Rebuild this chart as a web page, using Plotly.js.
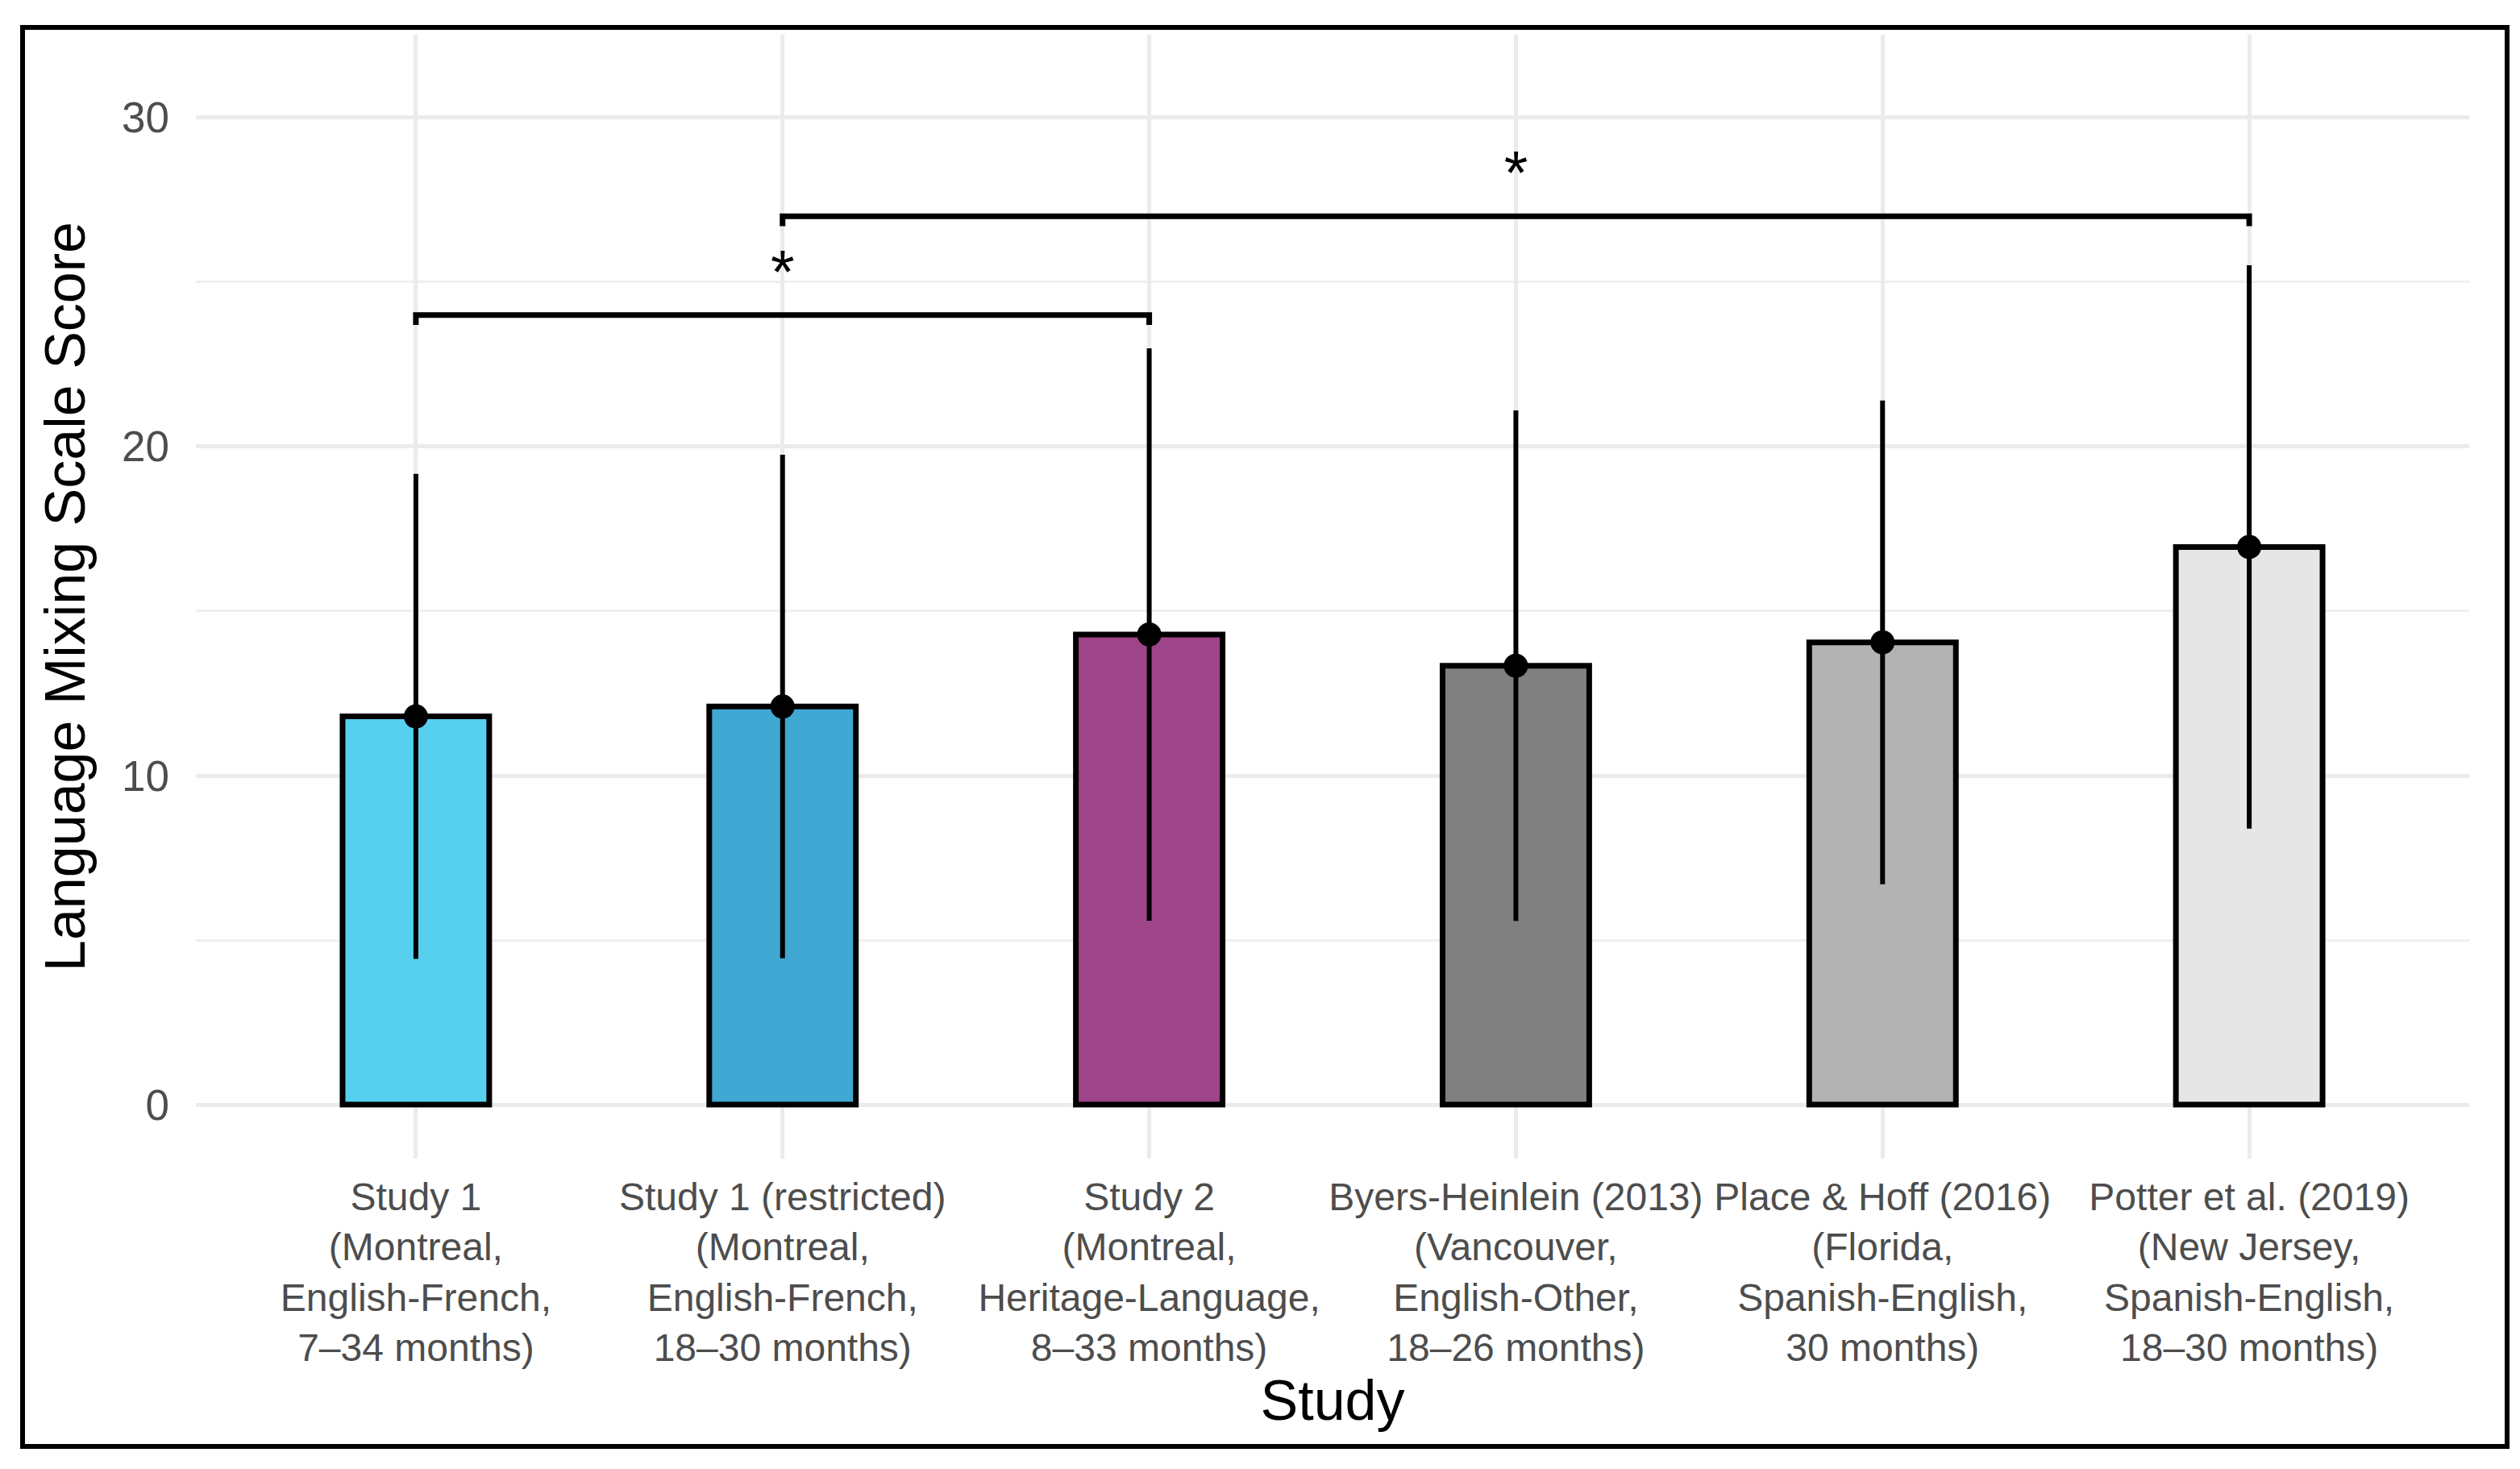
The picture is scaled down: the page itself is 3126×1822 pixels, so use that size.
<!DOCTYPE html>
<html>
<head>
<meta charset="utf-8">
<script src="https://cdn.plot.ly/plotly-3.0.1.min.js"></script>
<style>
  html, body { margin: 0; padding: 0; background: #ffffff; }
  #chart { position: absolute; left: 0; top: 0; width: 3126px; height: 1822px; }
  #frame { position: absolute; left: 25px; top: 31px; width: 3088px; height: 1766px;
           box-sizing: border-box; border: 6px solid #000000; pointer-events: none; }
</style>
</head>
<body>
<div id="chart"></div>
<div id="frame"></div>
<script>
// ---- data ----
const categories = ["Study 1", "Study 1 (restricted)", "Study 2", "Byers-Heinlein (2013)", "Place & Hoff (2016)", "Potter et al. (2019)"];
const tickLabels = [
  "Study 1<br>(Montreal,<br>English-French,<br>7–34 months)",
  "Study 1 (restricted)<br>(Montreal,<br>English-French,<br>18–30 months)",
  "Study 2<br>(Montreal,<br>Heritage-Language,<br>8–33 months)",
  "Byers-Heinlein (2013)<br>(Vancouver,<br>English-Other,<br>18–26 months)",
  "Place & Hoff (2016)<br>(Florida,<br>Spanish-English,<br>30 months)",
  "Potter et al. (2019)<br>(New Jersey,<br>Spanish-English,<br>18–30 months)"
];
const meanScores = [11.80, 12.10, 14.29, 13.34, 14.05, 16.95];
const sdScores   = [7.37, 7.65, 8.70, 7.76, 7.35, 8.56];
const yTicks = [0, 10, 20, 30];
// significance comparisons (indices into categories)
const compareFrom = [0, 1];
const compareTo   = [2, 5];
const compareY    = [24.0, 27.0];
const compareLabel = ["*", "*"];

// ---- styles ----
const barColors = ["#57D0EF", "#40A8D2", "#9E4489", "#808080", "#B3B3B3", "#E6E6E6"];
const FONT = "Liberation Sans, Arial, Helvetica, sans-serif";
const tickDrop = 0.3;
const starLift = 1.15;

const traces = [];
traces.push({
  type: "bar",
  x: categories,
  y: meanScores,
  width: 0.4,
  marker: { color: barColors, line: { color: "#000000", width: 7 } },
  hoverinfo: "skip",
  showlegend: false
});
traces.push({
  type: "scatter",
  mode: "markers",
  x: categories,
  y: meanScores,
  marker: { color: "#000000", size: 30 },
  error_y: { type: "data", array: sdScores, visible: true, width: 0, thickness: 6, color: "#000000" },
  hoverinfo: "skip",
  showlegend: false
});
for (let i = 0; i < compareFrom.length; i++) {
  const a = categories[compareFrom[i]], b = categories[compareTo[i]];
  const yb = compareY[i];
  traces.push({
    type: "scatter",
    mode: "lines",
    x: [a, a, b, b],
    y: [yb - tickDrop, yb, yb, yb - tickDrop],
    line: { color: "#000000", width: 7 },
    hoverinfo: "skip",
    showlegend: false
  });
  const mid = categories[Math.round((compareFrom[i] + compareTo[i]) / 2)];
  traces.push({
    type: "scatter",
    mode: "text",
    x: [mid],
    y: [yb + starLift],
    text: [compareLabel[i]],
    textposition: "middle center",
    textfont: { family: FONT, size: 76, color: "#000000" },
    hoverinfo: "skip",
    showlegend: false
  });
}

const layout = {
  width: 3126,
  height: 1822,
  margin: { l: 243, r: 63, t: 43, b: 385 },
  paper_bgcolor: "#ffffff",
  plot_bgcolor: "#ffffff",
  font: { family: FONT, color: "#4D4D4D" },
  showlegend: false,
  xaxis: {
    type: "category",
    range: [-0.6, 5.6],
    tickvals: categories,
    ticktext: tickLabels,
    tickangle: 0,
    ticks: "",
    ticklabelstandoff: 15,
    tickfont: { family: FONT, size: 48, color: "#4D4D4D" },
    showgrid: true,
    gridcolor: "#EBEBEB",
    gridwidth: 5,
    showline: false,
    zeroline: false,
    title: { text: "Study", font: { family: FONT, size: 70, color: "#000000" }, standoff: 4 }
  },
  yaxis: {
    range: [-1.64, 32.52],
    tickvals: yTicks,
    ticktext: yTicks.map(String),
    ticks: "",
    ticklabelstandoff: 32,
    tickfont: { family: FONT, size: 53, color: "#4D4D4D" },
    showgrid: true,
    gridcolor: "#EBEBEB",
    gridwidth: 5,
    minor: { dtick: 5, tick0: 0, showgrid: true, gridcolor: "#EFEFEF", gridwidth: 3, ticks: "" },
    showline: false,
    zeroline: false,
    title: { text: "Language Mixing Scale Score", font: { family: FONT, size: 70, color: "#000000" }, standoff: 22 }
  }
};

Plotly.newPlot("chart", traces, layout, { displayModeBar: false, staticPlot: true });
</script>
</body>
</html>
